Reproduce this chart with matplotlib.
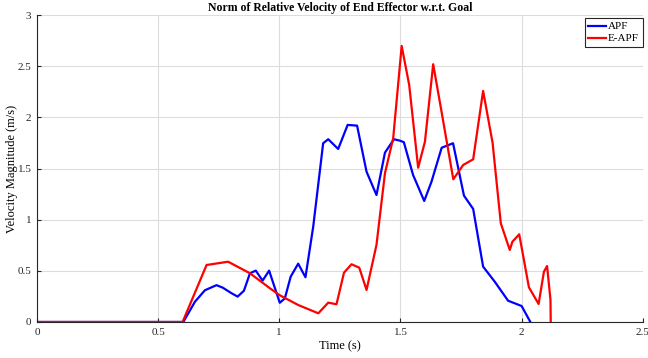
import matplotlib
matplotlib.use("Agg")
import matplotlib.pyplot as plt

# APF series
apf_t = [0.0, 0.604, 0.652, 0.693, 0.741, 0.767, 0.803, 0.828, 0.854, 0.879, 0.903,
         0.931, 0.958, 1.002, 1.023, 1.047, 1.078, 1.108, 1.140, 1.181, 1.202, 1.243,
         1.282, 1.321, 1.360, 1.401, 1.436, 1.473, 1.498, 1.514, 1.552, 1.598, 1.628,
         1.670, 1.717, 1.762, 1.800, 1.841, 1.889, 1.944, 2.000, 2.036]
apf_v = [0.0, 0.0, 0.198, 0.31, 0.36, 0.335, 0.281, 0.248, 0.305, 0.476, 0.502,
         0.404, 0.502, 0.188, 0.231, 0.443, 0.57, 0.437, 0.932, 1.747, 1.786, 1.691,
         1.926, 1.919, 1.469, 1.241, 1.655, 1.786, 1.772, 1.757, 1.437, 1.183, 1.371,
         1.703, 1.747, 1.235, 1.105, 0.541, 0.394, 0.208, 0.156, 0.0]

# E-APF series
eapf_t = [0.0, 0.601, 0.700, 0.789, 0.879, 0.961, 1.000, 1.078, 1.161, 1.202, 1.236,
          1.267, 1.298, 1.330, 1.360, 1.401, 1.436, 1.470, 1.505, 1.536, 1.573, 1.601,
          1.635, 1.667, 1.718, 1.759, 1.800, 1.841, 1.880, 1.914, 1.951, 1.962, 1.990,
          2.030, 2.070, 2.092, 2.105, 2.119, 2.120]
eapf_v = [0.0, 0.0, 0.557, 0.589, 0.476, 0.33, 0.264, 0.166, 0.085, 0.189, 0.173,
          0.482, 0.564, 0.531, 0.313, 0.753, 1.454, 1.796, 2.698, 2.317, 1.508, 1.762,
          2.519, 2.089, 1.395, 1.535, 1.590, 2.258, 1.753, 0.965, 0.704, 0.785, 0.857,
          0.339, 0.176, 0.492, 0.547, 0.215, 0.0]

x_ticks = [0, 0.5, 1, 1.5, 2, 2.5]
x_tick_labels = ["0", "0.5", "1", "1.5", "2", "2.5"]
y_ticks = [0, 0.5, 1, 1.5, 2, 2.5, 3]
y_tick_labels = ["0", "0.5", "1", "1.5", "2", "2.5", "3"]

plt.rcParams['font.family'] = ['Liberation Serif', 'DejaVu Serif']

fig = plt.figure(figsize=(6.48, 3.58), dpi=100)
ax = fig.add_axes([0.057, 0.1006, 0.935, 0.8574])

ax.plot(apf_t, apf_v, color='#0000ff', lw=1.6, label='APF')
ax.plot(eapf_t, eapf_v, color='#ff0000', lw=1.6, label='E-APF')

ax.set_xlim(0, 2.5)
ax.set_ylim(0, 3)
ax.set_xticks(x_ticks)
ax.set_xticklabels(x_tick_labels)
ax.set_yticks(y_ticks)
ax.set_yticklabels(y_tick_labels)
ax.grid(True, color='#dcdcdc', lw=0.8)
ax.set_axisbelow(True)
for s in ['top', 'right']:
    ax.spines[s].set_visible(False)
for s in ['left', 'bottom']:
    ax.spines[s].set_color('#262626')
    ax.spines[s].set_linewidth(0.8)
ax.tick_params(direction='in', length=3, labelsize=8, colors='#262626', pad=4)

ax.set_title('Norm of Relative Velocity of End Effector w.r.t. Goal',
             fontsize=8.5, fontweight='bold', pad=3)
ax.set_xlabel('Time (s)', fontsize=9, labelpad=3)
ax.set_ylabel('Velocity Magnitude (m/s)', fontsize=9, labelpad=0)

leg = ax.legend(loc='upper right', fontsize=8, frameon=True, fancybox=False,
                handlelength=1.6, handletextpad=0.2, borderpad=0.3,
                labelspacing=0.2, borderaxespad=0.3, bbox_to_anchor=(1.005, 1.0))
leg.get_frame().set_edgecolor('#262626')
leg.get_frame().set_linewidth(0.8)
leg.get_frame().set_alpha(1)

fig.savefig('out.png', dpi=100)
